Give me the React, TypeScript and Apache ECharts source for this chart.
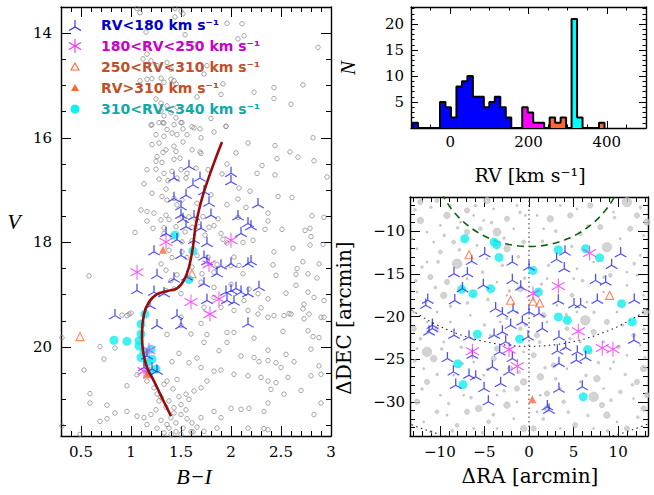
import React, { useEffect, useRef } from "react";
import * as echarts from "echarts";

// ---------------- CMD panel (B-I vs V) ----------------
const cmdField: number[][] = [
  [1.06,13.53],[1.09,13.61],[1.44,13.53],[1.50,13.58],[1.52,13.63],[1.44,13.69],[1.96,13.81],[2.11,13.82],[1.15,13.98],[1.54,14.03],[2.13,14.05],[2.07,14.11],[1.63,14.21],[2.87,14.27],[1.16,14.40],[1.12,14.49],[1.20,14.53],[1.36,14.56],[1.26,14.62],[1.40,14.69],[1.76,14.62],[1.73,14.78],[1.40,14.88],[1.16,14.88],[1.21,14.87],[1.30,14.86],[1.09,14.91],[1.43,14.91],[1.45,14.97],[1.33,14.94],[1.92,14.97],[2.23,15.13],[2.43,15.04],[2.72,14.99],[1.90,15.17],[2.43,15.25],[2.60,15.36],[1.66,15.22],[1.25,15.26],[1.30,15.34],[1.36,15.39],[1.46,15.42],[1.30,15.49],[1.40,15.52],[1.33,15.58],[1.28,15.71],[1.20,15.76],[1.33,15.72],[1.50,15.71],[1.63,15.81],[1.45,15.62],[1.80,15.63],[1.95,15.78],
  [1.21,15.75],[1.32,15.71],[1.43,15.75],[1.51,15.71],[1.61,15.79],[1.69,15.83],[1.83,15.89],[1.95,15.78],[1.52,15.83],[1.36,15.84],[1.25,15.94],[1.33,15.97],[1.41,15.91],[1.46,15.94],[1.56,15.94],[1.70,16.00],[2.17,16.10],[2.82,16.00],[2.44,16.15],[1.21,16.13],[1.28,16.10],[1.35,16.23],[1.43,16.16],[1.45,16.26],[1.52,16.08],[1.61,16.23],[1.69,16.27],[1.32,16.28],[1.26,16.36],[1.25,16.45],[1.31,16.47],[1.43,16.41],[1.49,16.39],[2.05,16.29],[2.59,16.27],[2.67,16.37],[2.46,16.40],[2.83,16.44],[1.70,16.30],[1.16,16.61],[1.25,16.60],[1.33,16.68],[1.41,16.64],[1.50,16.61],[1.65,16.58],[1.77,16.61],[1.96,16.50],[1.91,16.69],[2.31,16.53],[2.26,16.68],[2.44,16.71],[1.28,16.79],[1.37,16.82],[1.46,16.77],[1.55,16.77],[2.96,16.75],[1.13,16.88],[1.56,16.68],[1.35,16.98],[1.21,17.06],[1.31,17.12],[1.43,17.16],[1.51,17.19],[1.36,17.19],[2.07,17.17],[2.19,17.02],[2.47,17.12],[2.61,17.14],[2.08,16.96],[1.80,17.09],[1.96,17.28],[2.15,17.33],[1.66,17.25],[1.10,17.38],[1.16,17.41],[1.23,17.44],[1.46,17.28],[1.35,17.48],[1.38,17.56],[1.16,17.59],[1.30,17.57],[1.51,17.51],[1.58,17.51],[1.65,17.56],[1.72,17.51],[1.87,17.55],[2.07,17.52],[2.37,17.44],[2.37,17.59],[2.81,17.49],[2.93,17.52],[1.22,17.73],[1.33,17.72],[1.45,17.70],[1.61,17.71],[1.68,17.70],[1.78,17.71],[1.83,17.68],[2.34,17.75],[2.51,17.75],[2.74,17.77],[2.79,17.73],[1.04,17.81],[1.33,17.83],[1.41,17.89],[1.54,17.80],[1.90,17.83],[1.92,17.94],[1.96,18.01],[1.74,17.86],[1.51,17.99],[1.61,17.97],[2.12,18.00],[2.22,17.96],[2.80,17.89],[2.79,18.05],[2.92,18.04],[2.62,18.11],[1.38,18.15],[1.51,18.18],[1.41,18.29],[1.56,18.29],[1.66,18.25],[1.77,18.28],[2.43,18.18],[1.86,18.42],[2.00,18.44],[2.08,18.44],[2.42,18.43],[2.72,18.37],[2.66,18.50],[1.30,18.41],[1.35,18.53],[1.46,18.62],[1.61,18.47],[1.71,18.60],[1.83,18.57],[2.12,18.60],[2.45,18.63],[2.65,18.61],[2.77,18.60],[2.86,18.68],[0.58,18.64],[2.03,18.28],[2.88,18.41],[1.40,18.73],[1.43,18.89],[1.70,18.76],[1.83,18.86],[2.00,18.80],[2.18,18.89],[2.27,18.98],[2.55,18.97],[2.65,18.82],[2.77,18.95],[2.83,19.05],[2.73,19.18],[2.93,19.11],[1.35,18.92],[1.50,18.98],[2.13,19.11],[2.37,19.08],[1.83,19.05],[0.98,19.37],[0.91,19.39],[1.73,19.24],[1.90,19.24],[2.03,19.30],[2.17,19.30],[2.30,19.25],[2.43,19.40],[2.58,19.36],[2.72,19.27],[2.78,19.37],[2.90,19.43],
  [0.96,19.40],[1.00,19.35],[1.50,19.43],[1.70,19.55],[2.27,19.37],[2.37,19.43],[2.53,19.40],[2.60,19.37],[2.73,19.46],[2.93,19.43],[1.50,19.59],[2.03,19.72],[1.60,19.75],[1.36,19.76],[1.76,19.76],[1.96,19.72],[2.23,19.83],[2.52,19.70],[2.77,19.69],[2.88,19.82],[2.82,19.80],[0.31,19.82],[0.69,19.99],[0.84,20.02],[1.48,20.12],[1.66,20.21],[1.88,20.07],[2.10,20.17],[2.37,20.06],[2.55,20.14],[2.80,20.04],[1.96,19.91],[1.73,19.91],[2.23,20.20],[2.28,20.28],[2.37,20.26],[2.45,20.30],[2.50,20.39],[2.63,20.28],[2.88,20.36],[0.73,20.23],[0.53,20.44],[1.41,20.28],[1.58,20.30],[1.70,20.39],[1.83,20.46],[1.90,20.44],[1.46,20.62],[1.36,20.65],[1.33,20.71],[1.23,20.78],[1.26,20.90],[1.06,20.53],[1.16,20.65],[0.96,20.74],[1.28,21.03],[1.20,21.29],[1.38,21.03],[1.43,21.16],[1.50,21.10],[1.55,20.90],[1.63,20.84],[1.70,20.78],[1.76,20.65],[2.03,20.52],[2.17,20.55],[2.30,20.58],[2.37,20.65],[2.45,20.68],[2.57,20.58],[2.80,20.55],[2.90,20.52],[0.59,20.89],[0.59,21.07],[0.76,21.11],[0.84,21.26],[0.76,21.37],[0.69,21.42],[0.96,21.23],[1.06,21.32],[1.13,21.35],[1.16,21.48],[1.26,21.55],[1.36,21.48],[1.43,21.26],[1.50,21.29],[1.56,21.37],[1.61,21.45],[1.66,21.53],[1.73,21.61],[1.70,21.35],[1.83,21.23],[1.90,21.35],[2.00,21.17],[2.10,21.19],[2.18,21.17],[2.33,21.23],[2.37,21.07],[2.40,20.81],[2.53,20.90],[2.70,20.83],[2.83,21.29],[2.90,21.07],[1.33,21.64],[1.40,21.67],[1.50,21.67],[1.60,21.62],[1.86,21.55],[2.17,21.55],[2.33,21.56],[2.37,21.58],[0.49,21.67],[0.31,21.51],
  [1.30,20.95],[1.35,21.15],[1.40,21.35],[1.45,21.45],[1.52,21.55],[1.42,20.80],[1.48,20.95],[1.55,21.20],[1.30,21.40],[1.38,21.55],[1.25,21.20],[1.62,21.62],[1.45,21.62],[1.58,21.00]
];
const cmdBlue: number[][] = [
  [1.58,16.55],[1.43,16.77],[1.69,16.77],[2.00,16.68],[2.00,16.84],[1.73,17.03],[1.43,17.16],[1.50,17.32],[1.78,17.25],[1.50,17.48],[1.63,17.51],[1.80,17.48],[2.07,17.51],[2.27,17.28],[2.17,17.64],[2.20,17.70],[1.55,17.70],[1.70,17.73],[2.10,17.83],[1.35,17.83],[1.76,18.02],[1.63,17.96],[1.23,18.18],[1.50,18.25],[1.73,18.28],[1.76,18.37],[2.00,18.41],[2.17,18.41],[2.20,18.37],[1.26,18.63],[1.86,18.60],[1.56,18.66],[1.43,18.70],[1.73,18.79],[1.06,18.92],[1.23,18.95],[1.33,18.98],[1.76,19.11],[1.96,19.11],[2.03,19.14],[2.10,18.95],[2.17,18.98],[2.28,18.86],[2.00,18.92],[0.84,19.40],[1.26,19.59],[1.46,19.40],[1.50,19.59],[2.17,19.56],[1.16,20.17],[1.13,20.39],[1.26,20.46],[1.21,20.42],[1.19,19.21],[1.62,16.90],[1.55,17.10],[1.52,17.56],[1.46,17.95],[1.90,18.45],[1.95,18.95],[2.05,18.88]
];
const cmdMagenta: number[][] = [[1.35,17.99],[2.00,17.96],[1.06,18.57],[1.78,18.42],[1.60,19.14],[1.79,19.37],[1.88,19.08],[1.18,20.06],[1.13,20.46]];
const cmdOpenTri: number[][] = [[1.61,18.60],[0.49,19.80]];
const cmdFilledTri: number[][] = [[1.32,18.14],[1.16,20.52]];
const cmdCyan: number[][] = [[1.44,17.86],[1.62,18.16],[1.58,18.71],[1.14,19.37],[1.10,19.56],[0.83,19.87],[0.96,19.89],[1.08,19.88],[1.10,19.75],[1.20,20.04],[1.10,20.20],[1.21,20.23],[1.16,20.30],[1.18,20.49],[1.25,20.42],[1.08,19.98],[1.13,20.10]];
const isochrone: number[][] = [[1.91,16.08],[1.83,16.48],[1.73,17.03],[1.68,17.38],[1.645,17.70],[1.62,18.08],[1.58,18.47],[1.53,18.72],[1.46,18.88],[1.36,18.93],[1.26,18.99],[1.18,19.14],[1.13,19.37],[1.11,19.75],[1.12,20.07],[1.16,20.39],[1.23,20.65],[1.31,20.97],[1.40,21.32]];

// ---------------- RV histogram ----------------
const histBinWidth = 14;
const histBlueLeft = [-96,-26,-12,2,16,30,44,58,72,86,100,114,128,142];
const histBlueN = [1,5,4,2,8,9,10,6,6,4,5,6,4,2];
const histMagentaLeft = [184,198,212,226];
const histMagentaN = [4,3,1,1];
const histOrangeLeft = [254,268,282,380];
const histOrangeN = [2,1,2,1];
const histCyanLeft = [310,324];
const histCyanN = [21,2];

// ---------------- Sky map ----------------
const mapBig: number[][] = [
  [-12.19,-8.75,3.3],[-9.20,-8.16,3.3],[-6.95,-7.58,2.7],[-3.59,-10.11,4],[-2.47,-12.06,3.3],[-8.07,-13.82,4.7],[-11.06,-15.38,2.7],[-9.57,-17.52,3.3],[-0.97,-16.74,3.3],[-11.44,-24.15,4.7],[-10.69,-24.93,3.3],[-5.65,-30.78,3.3],[-2.47,-30.39,3.3],[-1.35,-28.44,2.7],[-0.60,-27.66,3.3],[-6.95,-31.17,2.7],[-3.59,-23.76,2.7],[-3.96,-24.93,2.7],[-9.20,-15.96,2.7],[-12.19,-6.60,2.7],[-4.71,-6.41,3.3],[-10.32,-6.41,2],[-8.45,-11.28,2],[-11.44,-27.66,2.7],[-12.56,-29.98,2.7],[-0.60,-33.12,3.3],[-10.32,-21.42,2],[-6.95,-10.11,2.7],[-5.46,-9.72,2],[-12.93,-21.42,2.7],[-2.10,-26.10,2.7],[-0.97,-21.42,2],[-4.52,-32.34,2],[-10.32,-31.17,2],[-8.07,-32.73,2],[-2.47,-8.55,2.7],[-0.60,-11.28,2],[-9.94,-12.45,2],
  [10.99,-6.60,4.7],[8.74,-11.87,4.7],[13.23,-8.94,3.3],[12.11,-8.16,2.7],[2.39,-8.55,3.3],[4.63,-8.16,2.7],[6.88,-6.99,2.7],[8.00,-9.53,2.7],[11.36,-9.72,2.7],[5.75,-10.31,2],[6.32,-20.45,4.7],[7.25,-21.81,2.7],[8.74,-20.64,2.7],[13.04,-19.47,3.3],[1.27,-27.07,3.3],[2.77,-25.71,2.7],[7.62,-27.27,3.3],[7.25,-29.41,4.7],[8.18,-30.39,2.7],[8.74,-31.56,3.3],[12.86,-26.10,3.3],[12.11,-27.66,2.7],[2.02,-30.78,3.3],[5.19,-32.73,2.7],[12.86,-30.78,2.7],[13.23,-29.22,2.7],[4.26,-21.42,2],[9.12,-15.18,2],[11.73,-22.20,2],[10.05,-23.56,2],[0.90,-22.20,2.7],[0.52,-24.54,2.7],[2.02,-29.02,2.7],[10.24,-28.83,2],[10.99,-33.12,2.7],[0.52,-33.12,2.7],[3.89,-30.00,2],[6.88,-24.15,2],[4.82,-17.52,2],[1.64,-19.86,2.7]
];
const mapMid: number[][] = [
  [-12.8,-7.5],[-11.0,-7.2],[-9.5,-10.5],[-8.0,-9.6],[-6.0,-7.0],[-4.2,-9.0],[-2.8,-10.8],[-1.0,-7.8],[-12.0,-14.2],[-10.2,-13.6],[-7.8,-12.2],[-5.2,-14.8],[-3.0,-14.0],[-1.2,-13.0],[-12.7,-15.8],[-10.5,-16.6],[-8.8,-18.8],[-6.9,-18.4],[-4.6,-18.0],[-2.2,-17.0],[-0.5,-15.5],[-12.2,-22.6],[-9.8,-23.8],[-7.6,-23.6],[-5.0,-21.0],[-2.5,-20.2],[-0.4,-21.0],[-12.8,-25.2],[-10.3,-26.8],[-7.5,-25.5],[-4.6,-26.2],[-1.1,-26.5],[-12.0,-28.5],[-9.0,-30.2],[-6.5,-29.5],[-4.0,-31.5],[-2.8,-28.7],[-11.0,-33.5],[-8.6,-33.4],[-5.2,-33.6],
  [1.5,-11.2],[3.0,-10.0],[4.8,-11.8],[6.6,-9.4],[9.6,-8.4],[12.5,-7.2],[2.2,-14.0],[6.0,-15.8],[8.4,-15.4],[11.8,-13.8],[1.4,-16.2],[4.2,-19.8],[7.3,-19.5],[10.5,-21.0],[12.9,-21.5],[1.2,-23.0],[4.6,-22.6],[7.8,-25.4],[10.8,-26.8],[13.0,-24.8],[1.8,-26.0],[3.0,-27.3],[6.4,-26.9],[9.2,-29.8],[12.2,-31.8],[1.6,-32.0],[4.4,-31.2],[6.6,-31.6],[8.8,-33.4],[11.6,-28.0]
];
const mapSmall: number[][] = [
  [-13.12,-10.89],[-12.56,-12.06],[-11.44,-10.11],[-10.69,-11.28],[-9.94,-9.33],[-8.82,-6.99],[-7.70,-8.94],[-6.21,-8.16],[-5.09,-8.75],[-3.96,-7.38],[-1.35,-6.99],[-0.41,-8.16],[-1.72,-9.72],[-5.83,-11.67],[-4.71,-13.23],[-11.44,-13.62],[-12.56,-17.13],[-10.32,-19.47],[-12.93,-19.47],[-11.44,-20.64],[-8.82,-20.64],[-6.58,-19.86],[-3.22,-20.64],[-1.35,-19.47],[-4.34,-22.20],[-9.57,-22.98],[-12.56,-23.76],[-6.21,-25.32],[-8.45,-26.88],[-5.09,-26.88],[-9.94,-29.22],[-7.33,-29.22],[-3.59,-29.22],[-1.35,-30.00],[-11.81,-32.34],[-9.20,-31.56],[-3.59,-33.12],[-1.72,-31.95],[-6.21,-33.12],[-0.60,-24.15],[-2.47,-17.52],[-6.21,-17.52],[-6.95,-15.57],[-3.59,-15.96],[-11.81,-26.10],
  [0.90,-8.16],[1.64,-9.72],[3.51,-6.99],[5.38,-7.38],[9.49,-7.77],[10.24,-10.89],[12.48,-12.84],[10.99,-14.79],[7.25,-13.62],[5.38,-14.40],[2.02,-15.57],[0.52,-17.13],[3.14,-18.69],[6.50,-18.30],[8.37,-17.13],[10.99,-16.35],[12.86,-17.52],[9.87,-19.47],[5.38,-19.47],[2.02,-20.64],[8.37,-22.98],[12.48,-23.37],[10.99,-24.54],[4.26,-26.10],[9.49,-25.32],[5.75,-27.66],[11.73,-29.61],[3.51,-28.44],[0.90,-31.17],[9.87,-32.34],[7.25,-33.12],[3.51,-33.12],[1.27,-29.22],[8.37,-28.44],[9.12,-26.10],[5.75,-22.98],[3.89,-23.76],[5.01,-15.57],[12.11,-15.18],[12.86,-10.50]
];
const mapBlue: number[][] = [
  [-6.43,-13.54],[-4.97,-12.65],[-6.91,-14.99],[-8.41,-14.99],[-1.87,-13.62],[0,-14.21],[4.04,-12.45],[3.10,-13.31],[3.96,-14.40],[10.28,-12.65],[9.27,-14.01],[7.47,-15.77],[8.60,-15.96],[-1.87,-15.77],[-5.12,-16.35],[-0.93,-16.55],[-7.47,-16.74],[-11.36,-18.10],[-11.58,-18.69],[-8.33,-18.14],[-3.74,-19.08],[-2.99,-19.66],[-1.79,-19.27],[0,-19.47],[3.29,-18.18],[5.05,-18.61],[5.79,-18.61],[7.66,-18.10],[11.81,-18.10],[1.12,-19.66],[-0.75,-20.64],[-2.06,-21.03],[-3.92,-22.20],[-10.84,-21.42],[-8.41,-22.20],[1.49,-21.42],[3.36,-22.39],[4.11,-23.64],[3.18,-24.03],[5.42,-24.15],[6.35,-24.81],[-9.15,-24.93],[-6.35,-24.54],[-3.29,-24.15],[-1.87,-24.93],[3.36,-25.51],[5.31,-25.12],[-6.73,-26.88],[-5.98,-27.07],[-8.22,-28.05],[-5.04,-28.44],[-4.11,-25.90],[-3.18,-27.85],[-2.24,-26.49],[-8.48,-26.49],[3.36,-28.51],[5.98,-28.24],[-4.56,-30.00],[2.06,-30.58],[2.24,-30.97],[11.77,-22.78],[-10.84,-21.03],[-6.73,-22.39],[-2.99,-21.81],[-11.21,-21.81],[-2.62,-22.98],[-0.11,-22.39]
];
const mapMagenta: number[][] = [[6.80,-12.57],[3.29,-16.43],[0.45,-17.33],[5.53,-21.73],[-2.24,-23.88],[-1.31,-25.82],[-6.35,-24.07],[8.22,-23.68],[9.42,-23.84]];
const mapOpenTri: number[][] = [[-6.73,-12.76],[-2.06,-18.10],[0.45,-18.22],[1.20,-18.42],[9.05,-17.52]];
const mapFilledTri: number[][] = [[0.37,-29.68]];
const mapCyan: number[][] = [[-7.21,-10.89],[-3.62,-11.59],[-3.36,-13.08],[-7.55,-16.82],[-6.28,-17.33],[-4.30,-16.74],[0.45,-14.60],[1.05,-17.13],[3.29,-12.18],[7.92,-13.12],[10.39,-18.50],[11.59,-20.64],[3.29,-20.05],[4.30,-20.44],[-5.79,-22.08],[-1.05,-22.63],[6.58,-23.88],[-7.99,-25.55],[-7.40,-27.97],[6.09,-29.41],[-3.92,-11.28],[6.35,-12.06]];
const ringCenter = [0, -1];
const ringRadii = [10.8, 22.5, 34.3];

// ---------------- ticks ----------------
const cmdXLabels = [0.5, 1, 1.5, 2, 2.5, 3];
const cmdYLabels = [14, 16, 18, 20];
const histXLabels = [0, 200, 400];
const histYLabels = [5, 10, 15, 20];
const mapXLabels = [-10, -5, 0, 5, 10];
const mapYLabels = [-30, -25, -20, -15, -10];

const BLUE = "#2424f0", MAG = "#f52cf5", ORG = "#ff6633", CYAN = "#10eeee";
const TRI = "path://M0,-10L0,0M0,0L-8.66,5M0,0L8.66,5";
const AST = "path://M0,-10L0,10M-8.66,-5L8.66,5M-8.66,5L8.66,-5";

function range(a: number, b: number, s: number) {
  const out: number[] = [];
  for (let i = 0; a + i * s <= b + 1e-9; i++) out.push(+(a + i * s).toFixed(4));
  return out;
}
const fmtMinus = (v: number) => (v < 0 ? "\u2212" + Math.abs(v) : String(v));

function axisSet(dim: "x" | "y", gridIndex: number, min: number, max: number, major: number[], minor: number[], majLen: number, minLen: number, labels: number[], margin: number, inverse = false) {
  const pos = dim === "x" ? ["bottom", "top"] : ["left", "right"];
  const mk = (position: string, ticks: number[], len: number, showLine: boolean, showLabels: boolean) => ({
    type: "value", gridIndex, min, max, inverse, position,
    splitLine: { show: false },
    axisLine: { show: showLine, onZero: false, lineStyle: { color: "#000", width: 1.4 } },
    axisTick: { show: true, inside: true, length: len, customValues: ticks, lineStyle: { color: "#000", width: 1 } },
    axisLabel: showLabels
      ? { show: true, customValues: labels, formatter: fmtMinus, color: "#000", fontFamily: "DejaVu Serif", fontSize: 15, margin }
      : { show: false },
  });
  return [mk(pos[0], major, majLen, true, true), mk(pos[0], minor, minLen, false, false), mk(pos[1], major, majLen, true, false), mk(pos[1], minor, minLen, false, false)];
}

function histData(lefts: number[], counts: number[], c: number) {
  return lefts.map((l, i) => [l, l + histBinWidth, counts[i], c]);
}

export default function App() {
  const ref = useRef<HTMLDivElement>(null);
  useEffect(() => {
    document.body.style.margin = "0";
    const chart = echarts.init(ref.current!, null, { renderer: "svg" });

    const bins = [
      ...histData(histBlueLeft, histBlueN, 0),
      ...histData(histMagentaLeft, histMagentaN, 1),
      ...histData(histOrangeLeft, histOrangeN, 2),
      ...histData(histCyanLeft, histCyanN, 3),
    ].sort((a, b) => a[0] - b[0]);
    const histColors = ["#0000ff", "#ff00ff", "#ff6633", "#00ffff"];

    // contiguous same-colour runs -> filled step polygons
    const runs: { c: number; pts: number[][] }[] = [];
    bins.forEach((b) => {
      const last = runs[runs.length - 1];
      const lastEnd = last ? last.pts[last.pts.length - 1][0] : null;
      if (last && last.c === b[3] && Math.abs((lastEnd as number) - b[0]) < 1e-6) {
        last.pts.push([b[0], b[2]], [b[1], b[2]]);
      } else {
        runs.push({ c: b[3], pts: [[b[0], 0], [b[0], b[2]], [b[1], b[2]]] });
      }
    });
    runs.forEach((r) => r.pts.push([r.pts[r.pts.length - 1][0], 0]));
    const runData = runs.map((r, i) => [r.pts[0][0], r.pts[r.pts.length - 1][0], i]);

    const outline: number[][] = [];
    let prevEnd: number | null = null;
    bins.forEach((b) => {
      if (prevEnd === null) outline.push([b[0], 0]);
      else if (Math.abs(prevEnd - b[0]) > 1e-6) { outline.push([prevEnd, 0]); outline.push([b[0], 0]); }
      outline.push([b[0], b[2]]);
      outline.push([b[1], b[2]]);
      prevEnd = b[1];
    });
    outline.push([prevEnd as any, 0]);

    const ringSeries = ringRadii.map((r, i) => {
      const pts: number[][] = [];
      for (let a = 0; a <= 360; a += 2) {
        const t = (a * Math.PI) / 180;
        pts.push([ringCenter[0] + r * Math.cos(t), ringCenter[1] + r * Math.sin(t)]);
      }
      return {
        type: "line", xAxisIndex: 8, yAxisIndex: 8, data: pts, showSymbol: false, silent: true, clip: true, z: 3,
        lineStyle: i === 0 ? { color: "#0b5e0b", width: 1.6, type: [7, 5] } : { color: "#222", width: 1.1, type: [1.5, 3.5] },
      };
    });

    const triStyle = (grid: number, data: number[][]) => ({
      type: "scatter", xAxisIndex: grid, yAxisIndex: grid, data, symbol: TRI, symbolSize: [11.5, 10], symbolOffset: [0, -1.7], z: 5,
      itemStyle: { color: "rgba(0,0,0,0)", borderColor: BLUE, borderWidth: 1.2 },
    });
    const astStyle = (grid: number, data: number[][]) => ({
      type: "scatter", xAxisIndex: grid, yAxisIndex: grid, data, symbol: AST, symbolSize: [13, 15], z: 6,
      itemStyle: { color: "rgba(0,0,0,0)", borderColor: MAG, borderWidth: 1.1 },
    });
    const cyanStyle = (grid: number, data: number[][]) => ({
      type: "scatter", xAxisIndex: grid, yAxisIndex: grid, data, symbol: "circle", symbolSize: 9, z: 4,
      itemStyle: { color: CYAN },
    });
    const openTri = (grid: number, data: number[][]) => ({
      type: "scatter", xAxisIndex: grid, yAxisIndex: grid, data, symbol: "triangle", symbolSize: 8, z: 7,
      itemStyle: { color: "rgba(255,255,255,0)", borderColor: ORG, borderWidth: 1.1 },
    });
    const fillTri = (grid: number, data: number[][]) => ({
      type: "scatter", xAxisIndex: grid, yAxisIndex: grid, data, symbol: "triangle", symbolSize: 8, z: 7,
      itemStyle: { color: ORG },
    });

    const legendRows = [
      { y: 25, text: "RV<180 km s\u207B\u00B9", color: "#0000c8" },
      { y: 46, text: "180<RV<250 km s\u207B\u00B9", color: "#c800c8" },
      { y: 67, text: "250<RV<310 km s\u207B\u00B9", color: "#c0502a" },
      { y: 88, text: "RV>310 km s\u207B\u00B9", color: "#c0502a" },
      { y: 109, text: "310<RV<340 km s\u207B\u00B9", color: "#10a8a8" },
    ];
    const sx = 75;
    const lineEl = (x1: number, y1: number, x2: number, y2: number, c: string) => ({ type: "line", shape: { x1, y1, x2, y2 }, style: { stroke: c, lineWidth: 1.1 } });
    const legendSymbols: any[] = [
      lineEl(sx, 27, sx, 20, BLUE), lineEl(sx, 27, sx - 6, 30.5, BLUE), lineEl(sx, 27, sx + 6, 30.5, BLUE),
      lineEl(sx, 39, sx, 53, MAG), lineEl(sx - 6, 42.5, sx + 6, 49.5, MAG), lineEl(sx - 6, 49.5, sx + 6, 42.5, MAG),
      { type: "polygon", shape: { points: [[sx, 63], [sx - 4, 70], [sx + 4, 70]] }, style: { fill: "none", stroke: ORG, lineWidth: 1.1 } },
      { type: "polygon", shape: { points: [[sx, 84], [sx - 4, 91], [sx + 4, 91]] }, style: { fill: ORG } },
      { type: "circle", shape: { cx: sx, cy: 109, r: 4.5 }, style: { fill: CYAN } },
    ];
    const legendTexts = legendRows.map((r) => ({
      type: "text", x: 101, y: r.y, style: { text: r.text, fill: r.color, font: "bold 14px 'DejaVu Sans'", textAlign: "left", textVerticalAlign: "middle" },
    }));
    const label = (text: string, x: number, y: number, font: string, rot = 0) => ({
      type: "text", x, y, rotation: rot, style: { text, fill: "#000", font, textAlign: "center", textVerticalAlign: "middle" },
    });

    const option: any = {
      animation: false,
      backgroundColor: "#fff",
      grid: [
        { left: 61, top: 7, width: 270, height: 429 },
        { left: 411, top: 7, width: 235, height: 121 },
        { left: 410, top: 197, width: 238, height: 239 },
      ],
      xAxis: [
        ...axisSet("x", 0, 0.3, 3.0, cmdXLabels, range(0.3, 3.0, 0.1), 10, 5, cmdXLabels, 8),
        ...axisSet("x", 1, -100, 500, range(0, 400, 200), range(-100, 500, 50), 7, 3.5, histXLabels, 6),
        ...axisSet("x", 2, -13.35, 13.35, mapXLabels, range(-13, 13, 1), 10, 5, mapXLabels, 8),
      ],
      yAxis: [
        ...axisSet("y", 0, 13.5, 21.7, cmdYLabels, range(13.5, 21.5, 0.5), 10, 5, cmdYLabels, 9, true),
        ...axisSet("y", 1, 0, 23.3, range(5, 20, 5), range(1, 23, 1), 7, 3.5, histYLabels, 7),
        ...axisSet("y", 2, -34, -6, mapYLabels, range(-33, -7, 1), 10, 5, mapYLabels, 5),
      ],
      series: [
        // CMD
        { type: "scatter", xAxisIndex: 0, yAxisIndex: 0, data: cmdField, symbol: "circle", symbolSize: 4.5, z: 2, silent: true,
          itemStyle: { color: "rgba(255,255,255,0)", borderColor: "#808080", borderWidth: 0.9 } },
        cyanStyle(0, cmdCyan),
        triStyle(0, cmdBlue),
        astStyle(0, cmdMagenta),
        openTri(0, cmdOpenTri),
        fillTri(0, cmdFilledTri),
        { type: "line", xAxisIndex: 0, yAxisIndex: 0, data: isochrone, smooth: 0.4, showSymbol: false, z: 9,
          lineStyle: { color: "#9b0a0a", width: 2.6 } },
        // histogram fill
        { type: "custom", xAxisIndex: 4, yAxisIndex: 4, data: runData, z: 3, encode: { x: [0, 1] },
          renderItem: (params: any, api: any) => {
            const run = runs[api.value(2)];
            return { type: "polygon", shape: { points: run.pts.map((p) => api.coord(p)) }, style: { fill: histColors[run.c] } };
          } },
        // histogram outline
        { type: "line", xAxisIndex: 4, yAxisIndex: 4, data: outline, showSymbol: false, z: 4,
          lineStyle: { color: "#000", width: 2 } },
        // sky map
        { type: "scatter", xAxisIndex: 8, yAxisIndex: 8, data: mapSmall, symbol: "circle", symbolSize: 2.6, z: 1, silent: true,
          itemStyle: { color: "#b0b0b0" } },
        { type: "scatter", xAxisIndex: 8, yAxisIndex: 8, data: mapMid, symbol: "circle", symbolSize: 3.6, z: 1, silent: true,
          itemStyle: { color: "#c0c0c0" } },
        { type: "scatter", xAxisIndex: 8, yAxisIndex: 8, data: mapBig, symbol: "circle", symbolSize: (v: number[]) => v[2] * 2, z: 1, silent: true,
          itemStyle: { color: "#c8c8c8", borderColor: "#b8b8b8", borderWidth: 0.6 } },
        ...ringSeries,
        { type: "line", xAxisIndex: 8, yAxisIndex: 8, data: [[0, -34], [0, -6]], showSymbol: false, z: 3,
          lineStyle: { color: "#444", width: 1.1, type: [1.5, 3] } },
        cyanStyle(8, mapCyan),
        triStyle(8, mapBlue),
        astStyle(8, mapMagenta),
        openTri(8, mapOpenTri),
        fillTri(8, mapFilledTri),
      ],
      graphic: [
        ...legendSymbols,
        ...legendTexts,
        label("V", 14, 221, "italic 22px 'Liberation Serif'"),
        label("B\u2212I", 194, 476, "italic 22px 'Liberation Serif'"),
        label("N", 348, 68, "italic 21px 'Liberation Serif'", Math.PI / 2),
        label("RV [km s\u207B\u00B9]", 530, 175, "19px 'DejaVu Serif'"),
        label("\u0394DEC [arcmin]", 344, 318, "20px 'DejaVu Serif'", Math.PI / 2),
        label("\u0394RA [arcmin]", 530, 476, "20px 'DejaVu Serif'"),
      ],
    };
    chart.setOption(option);
    return () => chart.dispose();
  }, []);
  return <div ref={ref} style={{ position: "fixed", left: 0, top: 0, width: 654, height: 495, background: "#fff" }} />;
}
